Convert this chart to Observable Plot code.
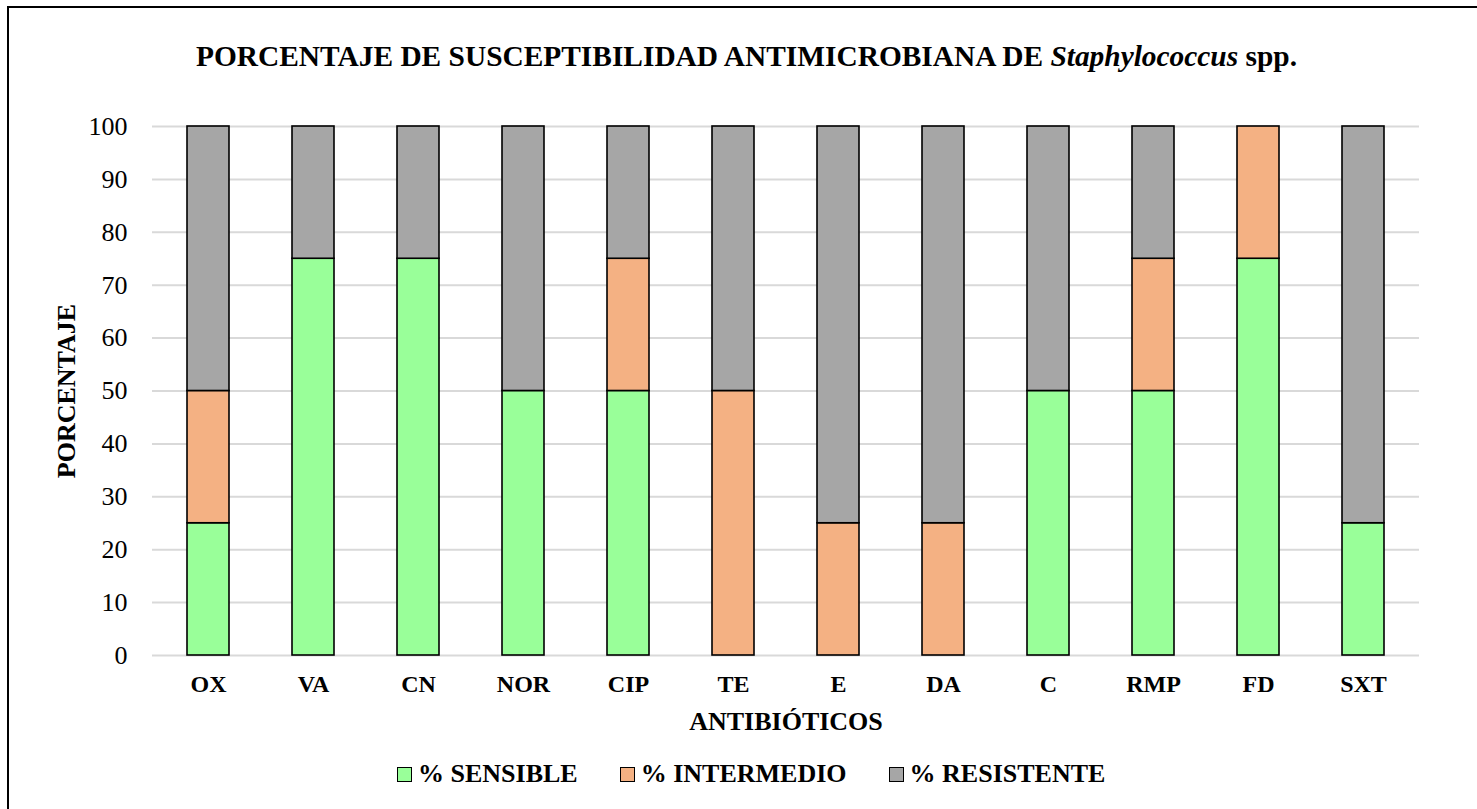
<!DOCTYPE html>
<html>
<head>
<meta charset="utf-8">
<script src="https://cdn.jsdelivr.net/npm/d3@7"></script>
<script src="https://cdn.jsdelivr.net/npm/@observablehq/plot@0.6"></script>
<style>
  html, body { margin: 0; padding: 0; background: #fff; width: 1477px; height: 809px; overflow: hidden; }
  body { position: relative; font-family: "Liberation Serif", "Times New Roman", serif; }
  #frame { position: absolute; left: 7px; top: 6px; width: 1600px; height: 1000px; border: 2px solid #000; box-sizing: border-box; }
  #title { position: absolute; left: 0; top: 42px; width: 1493px; text-align: center; font-size: 29.4px; line-height: 29px; font-weight: bold; color: #000; white-space: nowrap; }
  #chart { position: absolute; left: 0; top: 90px; }
  #chart svg text { font-family: "Liberation Serif", "Times New Roman", serif !important; }
  #chart g[aria-label="y-axis tick label"] { font-size: 26px !important; }
  #legend { position: absolute; left: 397px; top: 761px; display: flex; align-items: center; font-size: 26px; line-height: 26px; font-weight: bold; white-space: nowrap; }
  .item { display: flex; align-items: center; margin-right: 42px; }
  .sw { width: 13px; height: 13px; border: 1.5px solid #000; margin-right: 6px; }
</style>
</head>
<body>
<div id="frame"></div>
<div id="title">PORCENTAJE DE SUSCEPTIBILIDAD ANTIMICROBIANA DE <i>Staphylococcus</i> spp.</div>
<div id="chart"></div>
<div id="legend"></div>
<script>
const antibioticos = ["OX", "VA", "CN", "NOR", "CIP", "TE", "E", "DA", "C", "RMP", "FD", "SXT"];
const sensible =     [25, 75, 75, 50, 50,  0,  0,  0, 50, 50, 75, 25];
const intermedio =   [25,  0,  0,  0, 25, 50, 25, 25,  0, 25, 25,  0];
const resistente =   [50, 25, 25, 50, 25, 50, 75, 75, 50, 25,  0, 75];
const series = ["% SENSIBLE", "% INTERMEDIO", "% RESISTENTE"];
const colors = ["#99ff99", "#f4b183", "#a6a6a6"];
const yTicks = [0, 10, 20, 30, 40, 50, 60, 70, 80, 90, 100];

const values = [sensible, intermedio, resistente];
const data = [];
series.forEach((s, si) => {
  antibioticos.forEach((a, i) => {
    data.push({antibiotico: a, serie: s, valor: values[si][i]});
  });
});
const drawn = data.filter(d => d.valor > 0);

const font = "Liberation Serif, Times New Roman, serif";

const chart = Plot.plot({
  width: 1477,
  height: 660,
  marginLeft: 152,
  marginRight: 58,
  marginTop: 36,
  marginBottom: 95,
  style: {fontFamily: font, background: "transparent", color: "#000"},
  x: {domain: antibioticos, paddingInner: 0.6, paddingOuter: 0.3, label: null},
  y: {domain: [0, 100], label: null},
  color: {domain: series, range: colors},
  marks: [
    Plot.gridY(yTicks, {stroke: "#d9d9d9", strokeOpacity: 1, strokeWidth: 2}),
    Plot.barY(drawn, Plot.stackY({
      x: "antibiotico", y: "valor", fill: "serie", order: series,
      stroke: "#000", strokeWidth: 1.6
    })),
    Plot.axisY({ticks: yTicks, tickSize: 0, tickPadding: 25, fontSize: 26, label: null, fontFamily: font}),
    Plot.axisX({tickSize: 0, tickPadding: 19, fontSize: 24, fontWeight: "bold", label: null, fontFamily: font}),
    Plot.text(["PORCENTAJE"], {frameAnchor: "left", textAnchor: "middle", rotate: -90, dx: -86, fontSize: 26, fontWeight: "bold", lineAnchor: "middle", fontFamily: font}),
    Plot.text(["ANTIBIÓTICOS"], {frameAnchor: "bottom", textAnchor: "middle", dy: 66.5, fontSize: 26, fontWeight: "bold", lineAnchor: "middle", fontFamily: font})
  ]
});
document.getElementById("chart").appendChild(chart);

const legend = document.getElementById("legend");
series.forEach((s, i) => {
  const it = document.createElement("div");
  it.className = "item";
  const sw = document.createElement("div");
  sw.className = "sw";
  sw.style.background = colors[i];
  const t = document.createElement("span");
  t.textContent = s;
  it.appendChild(sw);
  it.appendChild(t);
  legend.appendChild(it);
});
</script>
</body>
</html>
